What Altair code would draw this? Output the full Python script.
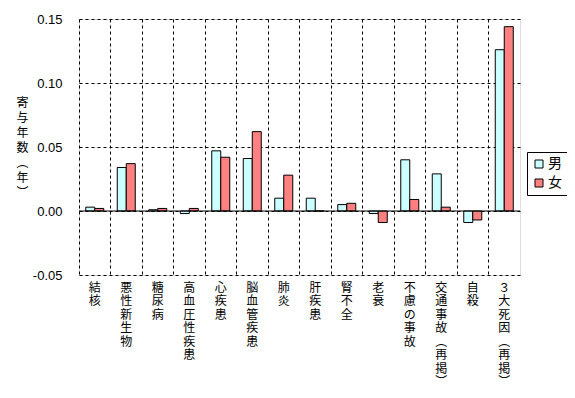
import altair as alt
import pandas as pd

categories = ["結核", "悪性新生物", "糖尿病", "高血圧性疾患", "心疾患", "脳血管疾患", "肺炎",
              "肝疾患", "腎不全", "老衰", "不慮の事故", "交通事故（再掲）", "自殺", "３大死因（再掲）"]
male = [0.003, 0.034, 0.001, -0.002, 0.047, 0.041, 0.010, 0.010, 0.005, -0.002, 0.040, 0.029, -0.009, 0.126]
female = [0.002, 0.037, 0.002, 0.002, 0.042, 0.062, 0.028, 0.000, 0.006, -0.009, 0.009, 0.003, -0.007, 0.144]
sexes = ["男", "女"]
y_ticks = [-0.05, 0.0, 0.05, 0.10, 0.15]

rows = []
for c, m, f in zip(categories, male, female):
    rows.append({"cat": c, "sex": "男", "v": m})
    rows.append({"cat": c, "sex": "女", "v": f})
df = pd.DataFrame(rows)

font = "Noto Sans CJK JP"

bars = alt.Chart(df).mark_bar(stroke="black", strokeWidth=1).encode(
    x=alt.X("cat:N", sort=categories,
            scale=alt.Scale(paddingInner=0, paddingOuter=0),
            axis=alt.Axis(title=None, labelAngle=0, ticks=False, domain=False,
                          grid=True, bandPosition=0, gridColor="black", gridDash=[3, 3],
                          gridOpacity=1, labelPadding=7, labelFont=font, labelFontSize=12,
                          labelLineHeight=13.5, labelColor="black", labelBaseline="top",
                          labelExpr="split(replace(replace(datum.label,'（','︵'),'）','︶'),'')")),
    xOffset=alt.XOffset("sex:N", sort=sexes, scale=alt.Scale(paddingInner=0, paddingOuter=0.75)),
    y=alt.Y("v:Q", scale=alt.Scale(domain=[-0.05, 0.15], nice=False, zero=False),
            axis=alt.Axis(values=y_ticks, ticks=False, domain=False, grid=True,
                          gridColor="black", gridDash=[3, 3], gridOpacity=1,
                          labelPadding=17, labelFont="Liberation Sans", labelFontSize=13,
                          labelColor="black",
                          labelExpr="datum.value < 0 ? '-' + format(-datum.value, '.2f') : format(datum.value, '.2f')",
                          title=["寄", "与", "年", "数", "︵", "年", "︶"],
                          titleAngle=0, titleX=-57, titleY=78, titleAlign="center",
                          titleBaseline="top", titleFont=font, titleFontSize=12,
                          titleFontWeight="normal", titleLineHeight=15, titleColor="black")),
    color=alt.Color("sex:N", sort=sexes,
                    scale=alt.Scale(domain=sexes, range=["#CCFFFF", "#FF8080"]),
                    legend=alt.Legend(title=None, orient="none", legendX=448, legendY=133,
                                      symbolType="square", symbolSize=64,
                                      symbolStrokeColor="black", symbolStrokeWidth=1,
                                      labelFont=font, labelFontSize=14, labelColor="black",
                                      strokeColor="black", fillColor="white", padding=5,
                                      rowPadding=5, labelOffset=2)),
)

zero = alt.Chart(pd.DataFrame({"z": [0]})).mark_rule(color="black", strokeWidth=1).encode(
    y=alt.Y("z:Q")
)

chart = alt.layer(bars, zero).properties(
    width=441, height=256,
    autosize=alt.AutoSizeParams(type="none"),
    padding={"left": 71, "top": 11, "right": 47, "bottom": 115},
).configure_view(stroke="black", strokeWidth=1).configure(background="white")

chart.save("out.html", embed_options={"renderer": "svg", "actions": False})
